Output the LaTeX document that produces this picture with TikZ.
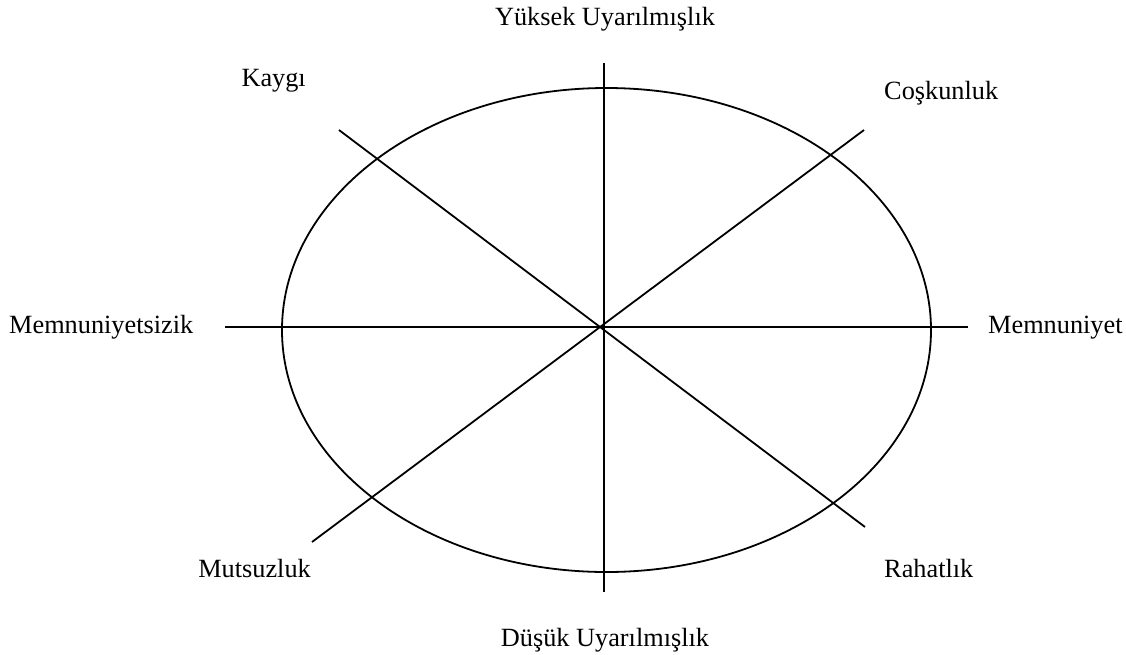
\documentclass[tikz,border=0pt]{standalone}
\usepackage{fontspec}
\setmainfont{Liberation Serif}
\begin{document}
\begin{tikzpicture}[x=1pt,y=-1pt,
  axis/.style={line width=1.8pt,black},
  lbl/.style={inner sep=0pt,font=\fontsize{26.3}{30}\selectfont}]
\useasboundingbox (0,0) rectangle (1126,654);
% ellipse
\draw[line width=1.8pt] (606.5,330) ellipse [x radius=324.5, y radius=242];
% end points
\coordinate (top) at (604,63);
\coordinate (bot) at (604,592);
\coordinate (lft) at (225,327);
\coordinate (rgt) at (968,327);
\coordinate (tl) at (339,130);
\coordinate (br) at (865,527);
\coordinate (tr) at (864,130);
\coordinate (bl) at (312,542);
\draw[axis] (top) -- (bot);
\draw[axis] (lft) -- (rgt);
\draw[axis] (tl) -- (br);
\draw[axis] (tr) -- (bl);
% labels
\node[lbl,anchor=base] (yu) at (605,25) {Yüksek Uyarılmışlık};
\node[lbl,anchor=base] (du) at (605,646) {Düşük Uyarılmışlık};
\node[lbl,anchor=base east] (ka) at (306,86) {Kaygı};
\node[lbl,anchor=base west] (co) at (884,99) {Coşkunluk};
\node[lbl,anchor=base west] (ms) at (9,333) {Memnuniyetsizik};
\node[lbl,anchor=base west] (mn) at (988,333) {Memnuniyet};
\node[lbl,anchor=base east] (mu) at (311,577) {Mutsuzluk};
\node[lbl,anchor=base west] (ra) at (884,577) {Rahatlık};
\end{tikzpicture}
\end{document}
